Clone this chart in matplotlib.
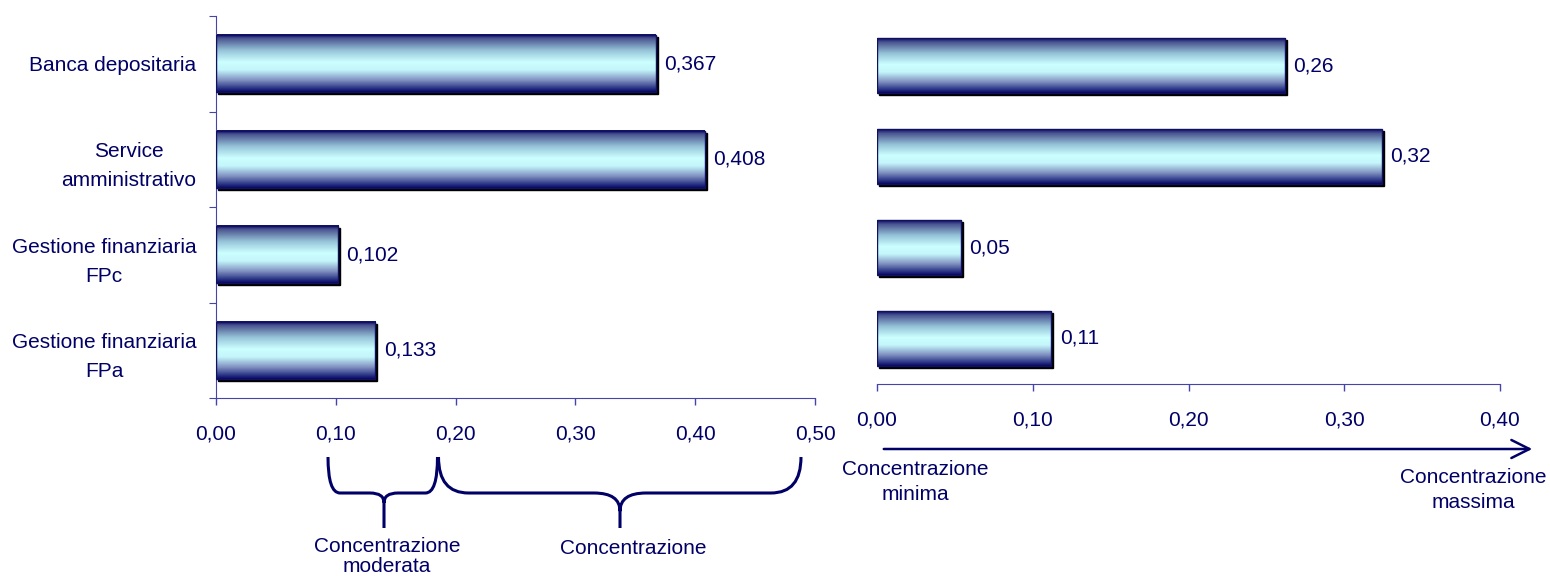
import numpy as np
import matplotlib
matplotlib.use("Agg")
import matplotlib.pyplot as plt
from matplotlib.colors import LinearSegmentedColormap
from matplotlib.path import Path
from matplotlib.patches import PathPatch, FancyArrowPatch, Rectangle
from matplotlib.ticker import FuncFormatter
import matplotlib.transforms as mtransforms

categories = ["Banca depositaria", "Service\namministrativo",
              "Gestione finanziaria\nFPc", "Gestione finanziaria\nFPa"]
left_values = [0.367, 0.408, 0.102, 0.133]
right_values = [0.262, 0.324, 0.054, 0.112]
left_ticks = [0.0, 0.1, 0.2, 0.3, 0.4, 0.5]
right_ticks = [0.0, 0.1, 0.2, 0.3, 0.4]

plt.rcParams["font.family"] = ["Liberation Sans", "DejaVu Sans"]
TXT = "#000066"
AXC = "#4444aa"
FS = 15

grad = LinearSegmentedColormap.from_list("bar", [
    (0.0, "#10106a"), (0.07, "#4a5590"), (0.28, "#96c4d8"), (0.48, "#ccffff"),
    (0.62, "#c4f6fa"), (0.8, "#8090c0"), (0.93, "#303a8a"), (1.0, "#0a0a66")])

fig = plt.figure(figsize=(15.5, 5.76), dpi=100)
W, H = 1550, 576
ax1 = fig.add_axes([216 / W, 1 - 398 / H, 599 / W, 382 / H])
ax2 = fig.add_axes([877 / W, 1 - 384 / H, 623 / W, 364 / H])

comma = FuncFormatter(lambda v, p: f"{v:.2f}".replace(".", ","))


def draw_bars(ax, values, fmt, xmax):
    y = np.arange(len(values))
    h = 0.6
    bars = ax.barh(y, values, height=h, color="none", edgecolor="none")
    shadow_tr = mtransforms.offset_copy(ax.transData, fig=fig, x=2, y=-2, units="dots")
    gimg = np.linspace(0, 1, 100).reshape(-1, 1)
    for b, v in zip(bars, values):
        x0, yc = b.get_x(), b.get_y() + h / 2
        ax.add_patch(Rectangle((x0, yc - h / 2), v, h, facecolor="black",
                               edgecolor="black", lw=1, transform=shadow_tr, zorder=1))
        ax.imshow(gimg, cmap=grad, aspect="auto", origin="upper",
                  extent=(x0, x0 + v, yc + h / 2, yc - h / 2), zorder=2)
        ax.add_patch(Rectangle((x0, yc - h / 2), v, h, facecolor="none",
                               edgecolor="#101060", lw=1, zorder=3))
        ax.annotate(fmt(v), (v, yc), xytext=(6, 0), textcoords="offset points",
                    va="center", ha="left", fontsize=FS, color=TXT)
    ax.set_xlim(0, xmax)
    ax.set_ylim(len(values) - 0.5, -0.5)


draw_bars(ax1, left_values, lambda v: f"{v:.3f}".replace(".", ","), 0.5)
draw_bars(ax2, right_values, lambda v: f"{v:.2f}".replace(".", ","), 0.4)

for ax, ticks in ((ax1, left_ticks), (ax2, right_ticks)):
    ax.set_xticks(ticks)
    ax.xaxis.set_major_formatter(comma)
    ax.tick_params(axis="x", direction="out", length=5, width=1, color=AXC,
                   labelsize=FS, labelcolor=TXT, pad=14)
    for s in ("top", "right"):
        ax.spines[s].set_visible(False)
    ax.spines["bottom"].set_color(AXC)
    ax.spines["left"].set_color(AXC)

ax1.set_yticks([-0.5, 0.5, 1.5, 2.5, 3.5])
ax1.set_yticklabels([])
ax1.set_yticks(range(len(categories)), minor=True)
ax1.set_yticklabels(categories, minor=True)
ax1.tick_params(axis="y", which="major", direction="out", length=5, color=AXC)
ax1.tick_params(axis="y", which="minor", length=0, pad=14, labelsize=FS, labelcolor=TXT)
for t in ax1.get_yticklabels(minor=True):
    t.set_multialignment("center")
    t.set_linespacing(1.65)

ax2.spines["left"].set_visible(False)
ax2.set_yticks([])

# annotations in pixel coordinates
pix = mtransforms.Affine2D().scale(1 / 100) + fig.dpi_scale_trans


def P(x, y):
    return (x, H - y)


def brace(xl, xr, xt, ytop, ymid, ytip, r, rt):
    verts = [P(xl, ytop), P(xl, ymid), P(xl + r, ymid), P(xt - rt, ymid),
             P(xt, ymid), P(xt, ymid + rt * 0.7), P(xt, ytip),
             P(xr, ytop), P(xr, ymid), P(xr - r, ymid), P(xt + rt, ymid),
             P(xt, ymid), P(xt, ymid + rt * 0.7)]
    codes = [Path.MOVETO, Path.CURVE3, Path.CURVE3, Path.LINETO,
             Path.CURVE3, Path.CURVE3, Path.LINETO,
             Path.MOVETO, Path.CURVE3, Path.CURVE3, Path.LINETO,
             Path.CURVE3, Path.CURVE3]
    fig.add_artist(PathPatch(Path(verts, codes), facecolor="none", edgecolor=TXT,
                             lw=2.2, transform=pix, capstyle="butt"))


brace(328, 437.5, 384, 457, 493, 528, 12, 14)
brace(438.5, 801, 620, 457, 493, 528, 30, 26)

fig.text(387 / W, 1 - 537 / H, "Concentrazione\nmoderata", ha="center", va="top",
         fontsize=FS, color=TXT, linespacing=1.1)
fig.text(633 / W, 1 - 549 / H, "Concentrazione", ha="center", va="center",
         fontsize=FS, color=TXT)

arrow = FancyArrowPatch(P(881, 449), P(1535, 449), transform=pix,
                        arrowstyle="->,head_length=1.0,head_width=0.5",
                        mutation_scale=13, color=TXT, lw=1.8)
fig.add_artist(arrow)
fig.text(915 / W, 1 - 460 / H, "Concentrazione\nminima", ha="center", va="top",
         fontsize=FS, color=TXT, linespacing=1.4)
fig.text(1473 / W, 1 - 468 / H, "Concentrazione\nmassima", ha="center", va="top",
         fontsize=FS, color=TXT, linespacing=1.4)

fig.savefig("out.png", dpi=100)
